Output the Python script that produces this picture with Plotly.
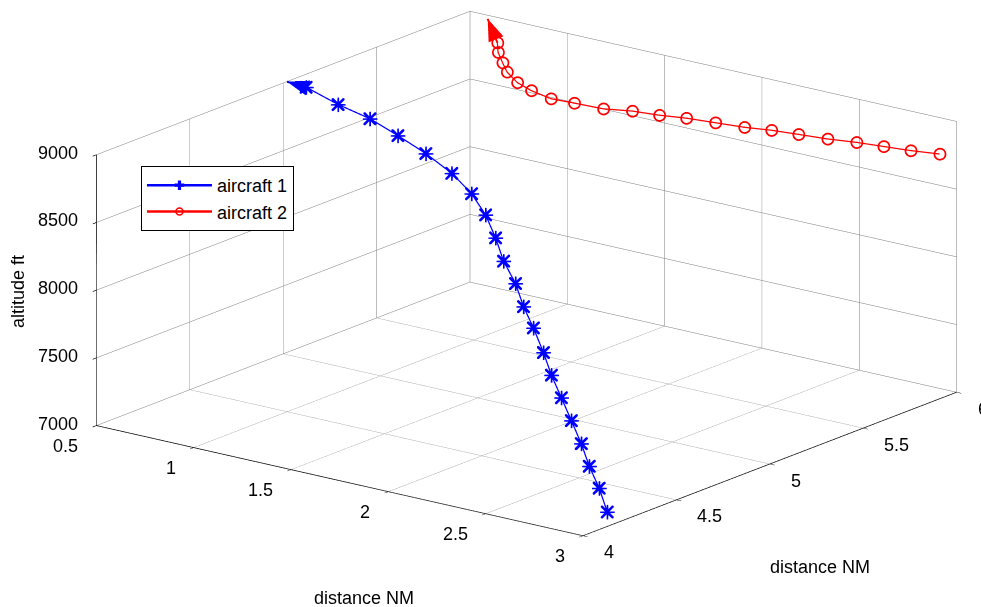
import numpy as np
import plotly.graph_objects as go

# ---- data ----
blue_x = [2.99, 2.92, 2.84, 2.78, 2.70, 2.62, 2.54, 2.48, 2.39, 2.32, 2.25, 2.16, 2.09, 2.01,
          1.89, 1.74, 1.53, 1.30, 1.07, 0.82, 0.56]
blue_y = [4.14, 4.17, 4.20, 4.22, 4.25, 4.28, 4.31, 4.33, 4.37, 4.39, 4.42, 4.45, 4.48, 4.51,
          4.56, 4.61, 4.69, 4.78, 4.87, 4.96, 5.06]
blue_z = [7099, 7236, 7356, 7493, 7621, 7748, 7873, 8010, 8141, 8265, 8397, 8517, 8650, 8778,
          8869, 8944, 8979, 8989, 8991, 8967, 8957]
blue_tip = [0.50, 5.02, 8999]

red_x = [2.98, 2.86, 2.74, 2.62, 2.50, 2.37, 2.25, 2.14, 2.01, 1.88, 1.77, 1.65, 1.54, 1.40,
         1.29, 1.16, 1.05, 0.93, 0.84, 0.74, 0.66]
red_y = [5.93, 5.90, 5.88, 5.86, 5.83, 5.81, 5.79, 5.76, 5.74, 5.72, 5.69, 5.67, 5.63, 5.62,
         5.61, 5.64, 5.68, 5.75, 5.82, 5.90, 5.98]
red_z = [8790, 8792, 8794, 8796, 8798, 8800, 8802, 8804, 8806, 8808, 8810, 8812, 8814, 8816,
         8818, 8820, 8822, 8824, 8826, 8828, 8830]
red_tip = [0.61, 5.98, 8990]

x_ticks = [0.5, 1, 1.5, 2, 2.5, 3]
x_ticktext = ["0.5", "1", "1.5", "2", "2.5", "3"]
y_ticks = [4, 4.5, 5, 5.5, 6]
y_ticktext = ["4", "4.5", "5", "5.5", "6"]
z_ticks = [7000, 7500, 8000, 8500, 9000]
z_ticktext = ["7000", "7500", "8000", "8500", "9000"]

X_RANGE = [0.5, 3]
Y_RANGE = [4, 6]
Z_RANGE = [7000, 9000]

BLUE = "#0000ff"
RED = "#ff0000"
FONT = "Liberation Sans, Arial, sans-serif"

# view geometry (scaled scene units)
ASPECT = np.array([1.0, 1.0, 0.462])
VIEW = np.array([0.582, -0.758, 0.295])
S = 2.243
LO = np.array([X_RANGE[0], Y_RANGE[0], Z_RANGE[0]], dtype=float)
SPAN = np.array([X_RANGE[1] - X_RANGE[0], Y_RANGE[1] - Y_RANGE[0], Z_RANGE[1] - Z_RANGE[0]], dtype=float)


def to_scaled(p):
    return (np.asarray(p, dtype=float) - LO) / SPAN * ASPECT


def to_data(q):
    return np.asarray(q) / ASPECT * SPAN + LO


def arrow_head(base, tip, length=0.036, half_width=0.013):
    """flat triangular arrow head facing the camera, returns data-space vertices"""
    b = to_scaled(base)
    t = to_scaled(tip)
    d = t - b
    d = d / np.linalg.norm(d)
    p = np.cross(d, VIEW)
    p = p / np.linalg.norm(p)
    c = t - length * d
    verts = [t, c + half_width * p, c - half_width * p]
    return np.array([to_data(v) for v in verts])


fig = go.Figure()

# aircraft 1
fig.add_trace(go.Scatter3d(x=blue_x, y=blue_y, z=blue_z, mode="lines+markers",
                           name="aircraft 1",
                           line=dict(color=BLUE, width=2.5),
                           marker=dict(symbol="cross", size=8, color=BLUE)))
fig.add_trace(go.Scatter3d(x=blue_x, y=blue_y, z=blue_z, mode="markers", showlegend=False,
                           marker=dict(symbol="x", size=3, color=BLUE)))
fig.add_trace(go.Scatter3d(x=[blue_x[-1], blue_tip[0]], y=[blue_y[-1], blue_tip[1]],
                           z=[blue_z[-1], blue_tip[2]], mode="lines", showlegend=False,
                           line=dict(color=BLUE, width=4)))
bh = arrow_head([blue_x[-1], blue_y[-1], blue_z[-1]], blue_tip)
fig.add_trace(go.Mesh3d(x=bh[:, 0], y=bh[:, 1], z=bh[:, 2], i=[0], j=[1], k=[2],
                        color=BLUE, opacity=1, flatshading=True, showscale=False,
                        showlegend=False, hoverinfo="skip",
                        lighting=dict(ambient=1, diffuse=0, specular=0, fresnel=0, roughness=1)))

# aircraft 2
fig.add_trace(go.Scatter3d(x=red_x, y=red_y, z=red_z, mode="lines+markers",
                           name="aircraft 2",
                           line=dict(color=RED, width=2.5),
                           marker=dict(symbol="circle-open", size=7, color=RED,
                                       line=dict(color=RED, width=1.5))))
fig.add_trace(go.Scatter3d(x=[red_x[-1], red_tip[0]], y=[red_y[-1], red_tip[1]],
                           z=[red_z[-1], red_tip[2]], mode="lines", showlegend=False,
                           line=dict(color=RED, width=4)))
rh = arrow_head([red_x[-1], red_y[-1], red_z[-1]], red_tip)
fig.add_trace(go.Mesh3d(x=rh[:, 0], y=rh[:, 1], z=rh[:, 2], i=[0], j=[1], k=[2],
                        color=RED, opacity=1, flatshading=True, showscale=False,
                        showlegend=False, hoverinfo="skip",
                        lighting=dict(ambient=1, diffuse=0, specular=0, fresnel=0, roughness=1)))

axis_common = dict(showbackground=False, showgrid=True, gridcolor="#7a7a7a", gridwidth=1,
                   showline=True, linecolor="black", linewidth=1.5,
                   ticks="outside", ticklen=6, tickcolor="black", tickwidth=1.5,
                   showspikes=False, zeroline=False, showticklabels=False,
                   title=dict(text=""))

tick_font = dict(family=FONT, size=18, color="black")
scene_ann = []
for v, t in zip(x_ticks, x_ticktext):
    scene_ann.append(dict(x=v, y=Y_RANGE[0], z=Z_RANGE[0], text=t, showarrow=False,
                          xanchor="right", yanchor="middle", xshift=-16, yshift=-20,
                          font=tick_font))
for v, t in zip(y_ticks, y_ticktext):
    scene_ann.append(dict(x=X_RANGE[1], y=v, z=Z_RANGE[0], text=t, showarrow=False,
                          xanchor="left", yanchor="middle", xshift=19, yshift=-16.5,
                          font=tick_font))
for v, t in zip(z_ticks, z_ticktext):
    scene_ann.append(dict(x=X_RANGE[0], y=Y_RANGE[0], z=v, text=t, showarrow=False,
                          xanchor="right", yanchor="middle", xshift=-16, yshift=2,
                          font=tick_font))

fig.update_layout(
    width=981, height=607,
    margin=dict(l=0, r=0, t=0, b=0),
    paper_bgcolor="white",
    font=dict(family=FONT, size=18, color="black"),
    showlegend=True,
    legend=dict(x=0.1437, y=1 - 166 / 607, xanchor="left", yanchor="top",
                bgcolor="white", bordercolor="black", borderwidth=1, itemwidth=65,
                font=dict(family=FONT, size=18, color="black")),
    scene=dict(
        domain=dict(x=[0.0734, 1.0], y=[0.0988, 1.0]),
        xaxis=dict(range=X_RANGE, tickvals=x_ticks, **axis_common),
        yaxis=dict(range=Y_RANGE, tickvals=y_ticks, **axis_common),
        zaxis=dict(range=Z_RANGE, tickvals=z_ticks, **axis_common),
        aspectmode="manual",
        aspectratio=dict(x=ASPECT[0] * S, y=ASPECT[1] * S, z=ASPECT[2] * S),
        camera=dict(eye=dict(x=VIEW[0] * 1.8, y=VIEW[1] * 1.8, z=VIEW[2] * 1.8),
                    up=dict(x=0, y=0, z=1), center=dict(x=0, y=0, z=0),
                    projection=dict(type="orthographic")),
        annotations=scene_ann,
    ),
    annotations=[
        dict(text="distance NM", x=364 / 981, y=1 - 598 / 607, xref="paper", yref="paper",
             xanchor="center", yanchor="middle", showarrow=False,
             font=dict(family=FONT, size=18, color="black")),
        dict(text="distance NM", x=820 / 981, y=1 - 567 / 607, xref="paper", yref="paper",
             xanchor="center", yanchor="middle", showarrow=False,
             font=dict(family=FONT, size=18, color="black")),
        dict(text="altitude ft", x=18 / 981, y=1 - 292 / 607, xref="paper", yref="paper",
             xanchor="center", yanchor="middle", showarrow=False, textangle=-90,
             font=dict(family=FONT, size=18, color="black")),
    ],
)

fig.write_html("out.html", config={"displayModeBar": False},
               post_script="document.body.style.margin='0px';")
